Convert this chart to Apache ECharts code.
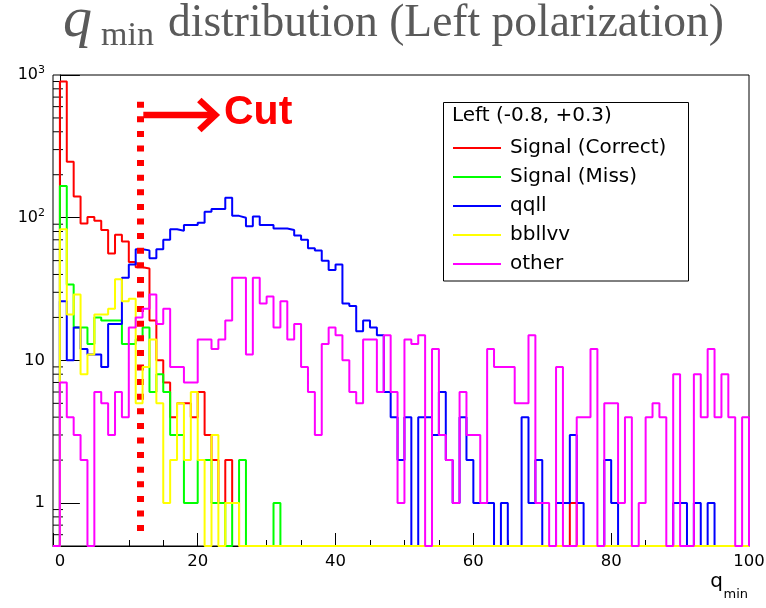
<!DOCTYPE html>
<html>
<head>
<meta charset="utf-8">
<script src="https://cdn.jsdelivr.net/npm/echarts@6/dist/echarts.min.js"></script>
<style>
  html, body { margin: 0; padding: 0; background: #fff; }
  #chart { width: 766px; height: 608px; }
</style>
</head>
<body>
<div id="chart"></div>
<script>
// histogram: 1-unit bins starting at q_min = 0, axis runs from -1 to 100
const xMin = -1, xMax = 100
const yMin = 0.5, yMax = 1000
const cutValue = 11.6

const seriesNames = ['Signal (Correct)', 'Signal (Miss)', 'qqll', 'bbllvv', 'other']
const seriesColors = ['#ff0000', '#00ff00', '#0000ff', '#ffff00', '#ff00ff']

const signalCorrect = [
  900, 247, 141, 91, 101, 95, 82, 56, 76, 68,
  49, 45, 44, 19, 10, 7, 4, 5, 5, 4,
  6, 3, 2, 1, 2, 1, 0, 0, 0, 0,
  0, 0, 0, 0, 0, 0, 0, 0, 0, 0,
  0, 0, 0, 0, 0, 0, 0, 0, 0, 0,
  0, 0, 0, 0, 0, 0, 0, 0, 0, 0,
  0, 0, 0, 0, 0, 0, 0, 0, 0, 0,
  0, 0, 0, 0, 1, 0, 0, 0, 0, 0,
  0, 0, 0, 0, 0, 0, 0, 0, 0, 0,
  0, 0, 0, 0, 0, 0, 0, 0, 0, 0
]
const signalMiss = [
  167, 34, 17, 17, 13, 20, 19, 19, 19, 13,
  13, 14, 17, 6, 8, 6, 3, 3, 1, 1,
  2, 2, 1, 1, 0, 1, 2, 0, 0, 0,
  0, 1, 0, 0, 0, 0, 0, 0, 0, 0,
  0, 0, 0, 0, 0, 0, 0, 0, 0, 0,
  0, 0, 0, 0, 0, 0, 0, 0, 0, 0,
  0, 0, 0, 0, 0, 0, 0, 0, 0, 0,
  0, 0, 0, 0, 0, 0, 0, 0, 0, 0,
  0, 0, 0, 0, 0, 0, 0, 0, 0, 0,
  0, 0, 0, 0, 0, 0, 0, 0, 0, 0
]
const qqll = [
  26, 10, 17, 12, 11, 11, 9, 18, 18, 38,
  47, 60, 59, 52, 60, 70, 83, 81, 89, 89,
  92, 110, 115, 115, 138, 103, 100, 87, 102, 89,
  89, 84, 84, 82, 75, 70, 61, 59, 50, 43,
  47, 25, 24, 16, 19, 17, 15, 6, 4, 2,
  4, 0, 4, 4, 3, 6, 2, 1, 4, 2,
  1, 1, 1, 0, 1, 0, 0, 4, 1, 2,
  0, 0, 1, 1, 3, 1, 0, 0, 0, 2,
  1, 0, 0, 0, 0, 0, 0, 0, 0, 1,
  1, 0, 1, 0, 1, 0, 0, 0, 0, 0
]
const bbllvv = [
  83, 21, 29, 8, 11, 21, 21, 23, 37, 26,
  27, 5, 9, 14, 5, 1, 2, 5, 2, 6,
  2, 0, 3, 0, 1, 1, 0, 0, 0, 0,
  0, 0, 0, 0, 0, 0, 0, 0, 0, 0,
  0, 0, 0, 0, 0, 0, 0, 0, 0, 0,
  0, 0, 0, 0, 0, 0, 0, 0, 0, 0,
  0, 0, 0, 0, 0, 0, 0, 0, 0, 0,
  0, 0, 0, 0, 0, 0, 0, 0, 0, 0,
  0, 0, 0, 0, 0, 0, 0, 0, 0, 0,
  0, 0, 0, 0, 0, 0, 0, 0, 0, 0
]
const other = [
  7, 4, 3, 2, 0, 6, 5, 3, 6, 4,
  17, 20, 23, 29, 18, 23, 9, 9, 7, 7,
  14, 14, 12, 14, 19, 38, 38, 11, 38, 25,
  28, 17, 26, 14, 18, 9, 6, 3, 13, 17,
  15, 10, 6, 5, 14, 14, 6, 15, 6, 1,
  14, 13, 15, 0, 12, 3, 2, 1, 6, 3,
  3, 1, 12, 9, 9, 9, 5, 5, 15, 1,
  1, 0, 9, 0, 0, 4, 4, 12, 0, 5,
  5, 1, 4, 0, 1, 4, 5, 4, 0, 8,
  0, 0, 8, 4, 12, 4, 8, 4, 0, 4
]
const histograms = [signalCorrect, signalMiss, qqll, bbllvv, other]

const yTickLabels = { 1: '1', 10: '10', 100: '{b|10}{s|2}', 1000: '{b|10}{s|3}' }

let chart

// ROOT style outline: empty bins sit on the frame bottom
function stepData(counts){
  const pts = [[xMin, yMin]]
  counts.forEach((c, i) => pts.push([i, c > 0 ? c : yMin]))
  pts.push([counts.length, yMin])
  return pts
}

// minor ticks of the log axis (2..9 per decade)
function minorTickValues(){
  const vals = []
  for (let d = 0.1; d < yMax; d *= 10) {
    for (let k = 2; k <= 9; k++) {
      const v = +(k * d).toPrecision(3)
      if (v > yMin && v < yMax) vals.push([xMin, v])
    }
  }
  return vals
}

function initChart(){
  chart = echarts.init(document.getElementById('chart'), null, { renderer: 'canvas' })
  const series = histograms.map((h, i) => ({
    name: seriesNames[i],
    type: 'line',
    step: 'end',
    data: stepData(h),
    showSymbol: false,
    symbol: 'none',
    clip: true,
    z: 2 + i,
    lineStyle: { color: seriesColors[i], width: 2 },
    itemStyle: { color: seriesColors[i] }
  }))
  // dotted cut line
  series.push({
    type: 'line',
    data: [],
    z: 10,
    markLine: {
      silent: true,
      symbol: 'none',
      label: { show: false },
      lineStyle: { color: '#ff0000', width: 7, type: [6, 8.6], cap: 'butt' },
      data: [[{ coord: [cutValue, 650] }, { coord: [cutValue, 0.56] }]]
    }
  })
  // y minor ticks
  series.push({
    type: 'custom',
    data: minorTickValues(),
    z: 1,
    silent: true,
    renderItem(params, api){
      const p = api.coord([api.value(0), api.value(1)])
      return {
        type: 'line',
        shape: { x1: p[0], y1: p[1], x2: p[0] + 10, y2: p[1] },
        style: { stroke: '#000', lineWidth: 1 }
      }
    }
  })

  const option = {
    animation: false,
    grid: { left: 53, right: 17, top: 75, bottom: 62, show: true, borderColor: '#000', borderWidth: 1, outerBoundsMode: 'none' },
    legend: {
      data: seriesNames,
      orient: 'vertical',
      left: 453,
      top: 138,
      padding: 0,
      itemGap: 9,
      itemWidth: 48,
      itemHeight: 2,
      icon: 'rect',
      selectedMode: false,
      textStyle: { fontFamily: 'DejaVu Sans', fontSize: 20, lineHeight: 20, color: '#000', padding: [0, 0, 0, 4] }
    },
    xAxis: {
      type: 'value',
      min: xMin,
      max: xMax,
      splitNumber: 5,
      splitLine: { show: false },
      axisLine: { lineStyle: { color: '#000', width: 1 } },
      axisTick: { inside: true, length: 13, lineStyle: { color: '#000' } },
      minorTick: { show: true, splitNumber: 4, length: 6, lineStyle: { color: '#000' } },
      axisLabel: {
        showMinLabel: false,
        margin: 7,
        fontFamily: 'DejaVu Sans',
        fontSize: 16.5,
        color: '#000'
      }
    },
    yAxis: {
      type: 'log',
      logBase: 10,
      min: yMin,
      max: yMax,
      splitLine: { show: false },
      axisLine: { show: true, lineStyle: { color: '#000', width: 1 } },
      axisTick: { inside: true, length: 20, lineStyle: { color: '#000' } },
      axisLabel: {
        showMinLabel: false,
        margin: 8,
        fontFamily: 'DejaVu Sans',
        fontSize: 16.5,
        color: '#000',
        formatter: v => yTickLabels[Math.round(v)] || '',
        rich: {
          b: { fontFamily: 'DejaVu Sans', fontSize: 16, lineHeight: 20, color: '#000' },
          s: { fontFamily: 'DejaVu Sans', fontSize: 11, lineHeight: 9, verticalAlign: 'top', color: '#000' }
        }
      }
    },
    series
  }
  chart.setOption(option)
  drawAnnotations()
}

function drawAnnotations(){
  const cutPx = chart.convertToPixel({ xAxisIndex: 0, yAxisIndex: 0 }, [cutValue, 520])
  const ax = cutPx[0] + 3.5, ay = 115
  const serif = 'Liberation Serif', grey = '#5a5a5a'
  chart.setOption({
    graphic: [
      // title
      { type: 'text', x: 63, y: 21, style: { text: 'q', fontFamily: serif, fontStyle: 'italic', fontSize: 58, fill: grey, verticalAlign: 'middle' } },
      { type: 'text', x: 101, y: 36, style: { text: 'min', fontFamily: serif, fontSize: 34, fill: grey, verticalAlign: 'middle' } },
      { type: 'text', x: 168, y: 24, style: { text: 'distribution (Left polarization)', fontFamily: serif, fontSize: 45.5, fill: grey, verticalAlign: 'middle' } },
      // arrow + Cut
      { type: 'line', shape: { x1: ax, y1: ay, x2: ax + 70, y2: ay }, style: { stroke: '#ff0000', lineWidth: 6.5 }, z: 20 },
      { type: 'polyline', shape: { points: [[ax + 56, ay - 15], [ax + 72, ay], [ax + 56, ay + 15]] }, style: { stroke: '#ff0000', lineWidth: 6.5, lineJoin: 'miter', fill: null }, z: 20 },
      { type: 'text', left: 224, top: 92, style: { text: 'Cut', fontFamily: 'Liberation Sans', fontWeight: 'bold', fontSize: 41, fill: '#ff0000' }, z: 20 },
      // legend frame + header
      { type: 'rect', shape: { x: 443.5, y: 102.5, width: 245, height: 178.5 }, style: { fill: '#fff', stroke: '#000', lineWidth: 1 }, z: 0, zlevel: 0 },
      { type: 'text', left: 452, top: 106, style: { text: 'Left (-0.8, +0.3)', fontFamily: 'DejaVu Sans', fontSize: 20, fill: '#000' }, z: 20 },
      // axis name
      { type: 'text', right: 43, top: 572, style: { text: 'q', fontFamily: 'DejaVu Sans', fontSize: 20, fill: '#000' } },
      { type: 'text', right: 18, top: 588, style: { text: 'min', fontFamily: 'DejaVu Sans', fontSize: 13, fill: '#000' } }
    ]
  })
}

initChart()
</script>
</body>
</html>
